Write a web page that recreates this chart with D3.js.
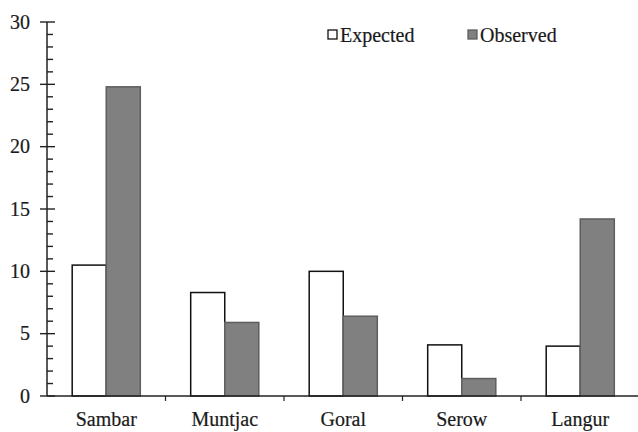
<!DOCTYPE html>
<html>
<head>
<meta charset="utf-8">
<script src="https://cdn.jsdelivr.net/npm/d3@7"></script>
<style>
  html, body { margin: 0; padding: 0; background: #fff; }
</style>
</head>
<body>
<svg id="chart" width="638" height="432"></svg>
<script>
// Species and their expected vs observed counts
const categories = ["Sambar", "Muntjac", "Goral", "Serow", "Langur"];
const seriesNames = ["Expected", "Observed"];
const expected = [10.5, 8.3, 10.0, 4.1, 4.0];
const observed = [24.8, 5.9, 6.4, 1.4, 14.2];
const yTicks = [0, 5, 10, 15, 20, 25, 30];
const yMinorTicks = d3.range(0, 31, 1);

const seriesValues = { Expected: expected, Observed: observed };
const fills = { Expected: "#ffffff", Observed: "#808080" };
const strokes = { Expected: "#111111", Observed: "#5e5e5e" };
const FONT = '"Liberation Serif", monospace';

const svg = d3.select("#chart");
const plotLeft = 47, plotRight = 639.5, plotTop = 22, plotBottom = 396;

const y = d3.scaleLinear().domain([0, 30]).range([plotBottom, plotTop]);
const x0 = d3.scaleBand().domain(categories).range([plotLeft, plotRight]).padding(0);
const x1 = d3.scaleBand().domain(seriesNames).range([0, x0.bandwidth()])
  .paddingInner(0).paddingOuter(0.74);

const rows = categories.map((c, i) => ({
  cat: c,
  vals: seriesNames.map(s => ({ s, v: seriesValues[s][i] }))
}));

// Bars
const groups = svg.append("g").selectAll("g").data(rows).join("g")
  .attr("transform", d => `translate(${x0(d.cat)},0)`);
groups.selectAll("rect").data(d => d.vals).join("rect")
  .attr("x", d => x1(d.s))
  .attr("y", d => y(d.v))
  .attr("width", x1.bandwidth())
  .attr("height", d => y(0) - y(d.v))
  .attr("fill", d => fills[d.s])
  .attr("stroke", d => strokes[d.s])
  .attr("stroke-width", 1.5);

// Y axis: minor ticks inside, major ticks crossing
const yAxis = svg.append("g");
yAxis.selectAll("line.minor").data(yMinorTicks.filter(t => t % 5 !== 0)).join("line")
  .attr("class", "minor")
  .attr("x1", plotLeft).attr("x2", plotLeft + 6)
  .attr("y1", d => y(d)).attr("y2", d => y(d))
  .attr("stroke", "#222").attr("stroke-width", 1.4);
yAxis.selectAll("line.major").data(yTicks).join("line")
  .attr("class", "major")
  .attr("x1", plotLeft - 7).attr("x2", plotLeft + 8)
  .attr("y1", d => y(d)).attr("y2", d => y(d))
  .attr("stroke", "#222").attr("stroke-width", 1.4);
yAxis.append("line")
  .attr("x1", plotLeft).attr("x2", plotLeft)
  .attr("y1", y(0)).attr("y2", y(30))
  .attr("stroke", "#222").attr("stroke-width", 1.5);

function styleText(sel) {
  return sel.style("font-family", FONT)
    .style("font-size", "20px")
    .attr("fill", "#1a1a1a")
    .attr("stroke", "#1a1a1a")
    .attr("stroke-width", 0.2);
}

yAxis.selectAll("text").data(yTicks).join("text")
  .attr("x", 30).attr("y", d => y(d))
  .attr("dy", "0.33em")
  .attr("text-anchor", "end")
  .call(styleText)
  .text(d => d);

// X axis
const xAxis = svg.append("g");
xAxis.append("line")
  .attr("x1", plotLeft).attr("x2", 638)
  .attr("y1", y(0)).attr("y2", y(0))
  .attr("stroke", "#222").attr("stroke-width", 1.5);
xAxis.selectAll("line.tick").data(categories.slice(1)).join("line")
  .attr("class", "tick")
  .attr("x1", d => x0(d)).attr("x2", d => x0(d))
  .attr("y1", y(0)).attr("y2", y(0) + 5)
  .attr("stroke", "#222").attr("stroke-width", 1.2);
xAxis.selectAll("text").data(categories).join("text")
  .attr("x", d => x0(d) + x0.bandwidth() / 2)
  .attr("y", 426)
  .attr("text-anchor", "middle")
  .call(styleText)
  .text(d => d);

// Legend
const legendX = { Expected: 328, Observed: 468 };
const legend = svg.append("g");
seriesNames.forEach(s => {
  legend.append("rect")
    .attr("x", legendX[s]).attr("y", 30)
    .attr("width", 9).attr("height", 9)
    .attr("fill", fills[s]).attr("stroke", strokes[s]).attr("stroke-width", 1.3);
  legend.append("text")
    .attr("x", legendX[s] + 12).attr("y", 42)
    .call(styleText)
    .text(s);
});
</script>
</body>
</html>
